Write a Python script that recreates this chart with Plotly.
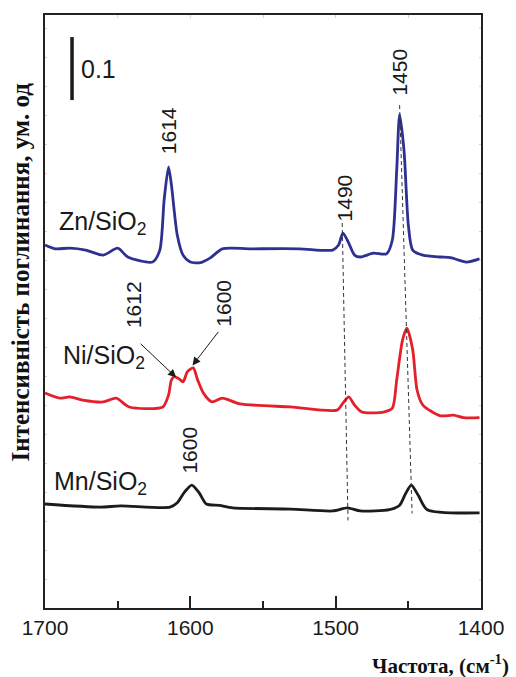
import numpy as np
import plotly.graph_objects as go

# Wavenumbers (cm^-1) and absorbance (offset spectra) for each catalyst
zn_wn = [1700, 1693, 1683, 1672, 1660, 1650, 1643, 1626, 1621, 1618, 1615, 1613, 1609,
         1605, 1600, 1593, 1586, 1578, 1559, 1525, 1502, 1498, 1495, 1491, 1487, 1483,
         1474, 1465, 1461, 1458, 1456, 1453, 1450, 1447, 1440, 1428, 1421, 1410, 1401]
zn_abs = [0.576, 0.570, 0.571, 0.568, 0.560, 0.571, 0.557, 0.549, 0.568, 0.648, 0.700,
          0.671, 0.592, 0.560, 0.549, 0.548, 0.556, 0.570, 0.570, 0.570, 0.568, 0.576,
          0.595, 0.579, 0.560, 0.557, 0.563, 0.562, 0.584, 0.695, 0.783, 0.727, 0.608,
          0.568, 0.560, 0.557, 0.556, 0.549, 0.554]

ni_wn = [1700, 1690, 1683, 1674, 1660, 1651, 1642, 1619, 1615, 1613, 1611, 1608, 1605,
         1602, 1598, 1595, 1591, 1585, 1578, 1566, 1531, 1499, 1495, 1491, 1487, 1482,
         1467, 1461, 1458, 1454, 1451, 1447, 1444, 1440, 1428, 1419, 1412, 1401]
ni_abs = [0.341, 0.333, 0.335, 0.330, 0.327, 0.333, 0.319, 0.319, 0.338, 0.362, 0.367,
          0.364, 0.359, 0.375, 0.381, 0.362, 0.341, 0.327, 0.333, 0.324, 0.319, 0.314,
          0.325, 0.335, 0.322, 0.311, 0.311, 0.317, 0.362, 0.425, 0.444, 0.410, 0.346,
          0.322, 0.305, 0.306, 0.302, 0.302]

mn_wn = [1700, 1662, 1648, 1614, 1609, 1604, 1599, 1594, 1589, 1580, 1571, 1531, 1502,
         1492, 1483, 1463, 1456, 1452, 1448, 1443, 1437, 1401]
mn_abs = [0.165, 0.160, 0.162, 0.160, 0.167, 0.184, 0.195, 0.183, 0.165, 0.163, 0.159,
          0.157, 0.154, 0.159, 0.154, 0.156, 0.163, 0.181, 0.195, 0.178, 0.156, 0.151]

series_names = ["Zn/SiO<sub>2</sub>", "Ni/SiO<sub>2</sub>", "Mn/SiO<sub>2</sub>"]
series_colors = ["#2E3192", "#E4202A", "#1C1C1C"]

x_ticks = [1700, 1600, 1500, 1400]
scale_value = 0.1

LABEL_FONT = dict(family="Liberation Sans, Arial, sans-serif", size=21, color="#1a1a1a")
TITLE_FAMILY = "Liberation Serif, Times New Roman, serif"

fig = go.Figure()
for wn, ab, name, col in zip([zn_wn, ni_wn, mn_wn], [zn_abs, ni_abs, mn_abs],
                             series_names, series_colors):
    fig.add_trace(go.Scatter(x=wn, y=ab, mode="lines", name=name,
                             line=dict(color=col, width=2.8, shape="spline", smoothing=0.7),
                             showlegend=False, hoverinfo="skip"))

# invisible trace so the top axis with its faint ticks is drawn
fig.add_trace(go.Scatter(x=[1700, 1400], y=[0, 0], xaxis="x2", mode="lines",
                         line=dict(width=0), showlegend=False, hoverinfo="skip"))


def peak(wn, ab, lo, hi):
    wn = np.asarray(wn); ab = np.asarray(ab)
    m = (wn >= lo) & (wn <= hi)
    i = np.argmax(np.where(m, ab, -1))
    return float(wn[i]), float(ab[i])


zn_1450 = peak(zn_wn, zn_abs, 1440, 1465)
mn_1450 = peak(mn_wn, mn_abs, 1440, 1465)
zn_1490 = peak(zn_wn, zn_abs, 1480, 1505)
mn_1490 = peak(mn_wn, mn_abs, 1480, 1505)
ni_1612 = peak(ni_wn, ni_abs, 1605, 1620)
ni_1600 = peak(ni_wn, ni_abs, 1590, 1604)

shapes = []
# dashed guide lines through the 1490 and 1450 bands
shapes.append(dict(type="line", xref="x", yref="y", x0=zn_1490[0] + 0.5, y0=zn_1490[1] + 0.016,
                   x1=mn_1490[0] - 0.5, y1=mn_1490[1] - 0.02,
                   line=dict(color="#333", width=1, dash="4px,3px")))
shapes.append(dict(type="line", xref="x", yref="y", x0=zn_1450[0], y0=zn_1450[1] + 0.015,
                   x1=mn_1450[0] - 0.6, y1=mn_1450[1] - 0.045,
                   line=dict(color="#333", width=1, dash="4px,3px")))
# 0.1 absorbance scale bar
bar_top = 0.906
shapes.append(dict(type="line", xref="x", yref="y", x0=1681.4, x1=1681.4,
                   y0=bar_top, y1=bar_top - scale_value,
                   line=dict(color="#1a1a1a", width=3.5)))

ann = []
ann.append(dict(x=1676.5, y=bar_top - scale_value / 2 - 0.001, text=f"{scale_value:g}",
                xanchor="left", yanchor="middle", showarrow=False,
                font=dict(family=LABEL_FONT["family"], size=25, color="#1a1a1a")))

# series names
ann.append(dict(x=1692, y=0.611, text=series_names[0], xanchor="left", yanchor="middle",
                showarrow=False, font=dict(LABEL_FONT, size=25)))
ann.append(dict(x=1689, y=0.398, text=series_names[1], xanchor="left", yanchor="middle",
                showarrow=False, font=dict(LABEL_FONT, size=25)))
ann.append(dict(x=1695, y=0.198, text=series_names[2], xanchor="left", yanchor="middle",
                showarrow=False, font=dict(LABEL_FONT, size=25)))

# band positions
ann.append(dict(x=1614.5, y=0.757, text="1614", textangle=-90, showarrow=False, font=LABEL_FONT))
ann.append(dict(x=1493.8, y=0.651, text="1490", textangle=-90, showarrow=False, font=LABEL_FONT))
ann.append(dict(x=1455.8, y=0.851, text="1450", textangle=-90, showarrow=False, font=LABEL_FONT))
ann.append(dict(x=1638.6, y=0.481, text="1612", textangle=-90, showarrow=False, font=LABEL_FONT))
ann.append(dict(x=1576.8, y=0.483, text="1600", textangle=-90, showarrow=False, font=LABEL_FONT))
ann.append(dict(x=1600.8, y=0.250, text="1600", textangle=-90, showarrow=False, font=LABEL_FONT))

# arrows pointing at the Ni/SiO2 doublet
ann.append(dict(x=ni_1612[0] - 1.2, y=ni_1612[1] - 0.001, ax=-37, ay=-35, text="",
                showarrow=True, arrowhead=2, arrowsize=1.6, arrowwidth=1, arrowcolor="#1a1a1a"))
ann.append(dict(x=ni_1600[0] + 0.5, y=ni_1600[1] + 0.004, ax=27, ay=-35, text="",
                showarrow=True, arrowhead=2, arrowsize=1.6, arrowwidth=1, arrowcolor="#1a1a1a"))

# axis titles
ann.append(dict(xref="paper", yref="paper", x=-0.057, y=0.566, xanchor="center",
                yanchor="middle", text="<b>Інтенсивність поглинання, ум. од</b>",
                textangle=-90, showarrow=False,
                font=dict(family=TITLE_FAMILY, size=25, color="#111111")))
ann.append(dict(xref="paper", yref="paper", x=0.906, y=-0.096, xanchor="center",
                yanchor="middle", text="<b>Частота, (см<sup>-1</sup>)</b>",
                showarrow=False, font=dict(family=TITLE_FAMILY, size=21, color="#111111")))

fig.update_layout(
    width=516, height=677,
    margin=dict(l=45, r=35, t=15, b=69),
    paper_bgcolor="white", plot_bgcolor="white",
    shapes=shapes, annotations=ann,
    xaxis=dict(range=[1700, 1400], tickvals=x_ticks, ticks="inside", ticklen=12,
               tickwidth=1.5, tickcolor="#222", showline=True, linewidth=2, linecolor="#222",
               mirror=True, showgrid=False, zeroline=False,
               tickfont=dict(family=LABEL_FONT["family"], size=21, color="#1a1a1a"),
               minor=dict(dtick=50, tick0=1400, ticks="inside", ticklen=7, tickwidth=1.5,
                          tickcolor="#222", showgrid=False)),
    xaxis2=dict(range=[1700, 1400], overlaying="x", side="top", anchor="y", dtick=50,
                tick0=1400, ticks="inside", ticklen=3, tickwidth=1, tickcolor="#d4d4d4",
                showticklabels=False, showgrid=False, zeroline=False, showline=False),
    yaxis=dict(range=[0, 0.941], showticklabels=False, ticks="inside", ticklen=2,
               tickwidth=1, tickcolor="#d4d4d4", dtick=0.046, showline=True, linewidth=2,
               linecolor="#222", mirror="ticks", showgrid=False, zeroline=False),
)

fig.write_html("out.html")
